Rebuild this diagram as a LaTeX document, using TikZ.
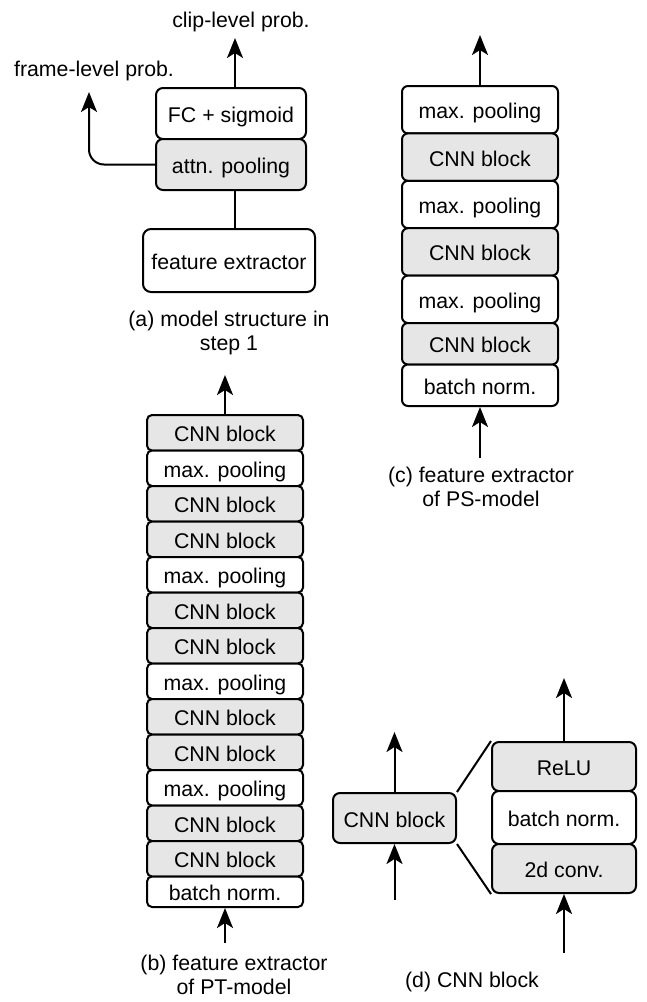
\documentclass[tikz,border=0pt]{standalone}
\usepackage{fontspec}
\setmainfont{Liberation Sans}
\usetikzlibrary{arrows.meta}
\definecolor{boxgray}{RGB}{230,230,230}
\begin{document}
\begin{tikzpicture}[x=1pt,y=-1pt, line width=2pt,
  font=\fontsize{21.3}{24}\selectfont,
  wbox/.style={draw, fill=white, rounded corners=5pt, inner sep=0pt, text height=20pt, text depth=2pt},
  gbox/.style={wbox, fill=boxgray},
  arr/.style={-{Stealth[length=20pt,width=16pt,inset=5pt]}},
  capt/.style={anchor=base, align=center, inner sep=0pt},
  lbl/.style={anchor=base, inner sep=0pt}]
\useasboundingbox (0,0) rectangle (646,1002);

% ---------- (a) ----------
\node[wbox, rounded corners=7pt, minimum width=150pt, minimum height=51pt] (fc) at (231,113.5) {FC + sigmoid};
\node[gbox, rounded corners=7pt, minimum width=150pt, minimum height=51pt] (attn) at (231,164.5) {attn. pooling};
\node[wbox, rounded corners=8pt, minimum width=172pt, minimum height=63pt] (fe) at (229,260.5) {feature extractor};
\coordinate (clipend) at (235,38);
\coordinate (frameend) at (89,92);
\node[lbl] (cliplbl) at (241,27) {clip-level prob.};
\node[lbl] (framelbl) at (94,76) {frame-level prob.};
\draw[arr] (clipend |- fc.north) -- (clipend);
\draw (clipend |- attn.south) -- (clipend |- fe.north);
\draw[arr, rounded corners=15pt] (attn.west) -| (frameend);
\node[capt] (capa) at (229,350) {(a) model structure in\\step 1};

% ---------- (b) ----------
\foreach \i/\t/\s in {1/CNN block/gbox, 2/max. pooling/wbox, 3/CNN block/gbox, 4/CNN block/gbox,
  5/max. pooling/wbox, 6/CNN block/gbox, 7/CNN block/gbox, 8/max. pooling/wbox,
  9/CNN block/gbox, 10/CNN block/gbox, 11/max. pooling/wbox, 12/CNN block/gbox, 13/CNN block/gbox}
  \node[\s, minimum width=156pt, minimum height=35.5pt] (b\i) at (225,{415+35.5*(\i-0.5)}) {\t};
\node[wbox, minimum width=156pt, minimum height=30.5pt] (b14) at (225,891.75) {batch norm.};
\coordinate (bout) at (225,375);
\coordinate (bin) at (225,943);
\draw[arr] (b1.north) -- (bout);
\draw[arr] (bin) -- (b14.south);
\node[capt] (capb) at (234,994) {(b) feature extractor\\of PT-model};

% ---------- (c) ----------
\foreach \i/\t/\s in {1/max. pooling/wbox, 2/CNN block/gbox, 3/max. pooling/wbox, 4/CNN block/gbox, 5/max. pooling/wbox}
  \node[\s, rounded corners=6pt, minimum width=156pt, minimum height=47.4pt] (c\i) at (480,{86+47.4*(\i-0.5)}) {\t};
\node[gbox, rounded corners=6pt, minimum width=156pt, minimum height=41.5pt] (c6) at (480,343.75) {CNN block};
\node[wbox, rounded corners=6pt, minimum width=156pt, minimum height=41.5pt] (c7) at (480,385.25) {batch norm.};
\coordinate (cout) at (480,35);
\coordinate (cin) at (480,458);
\draw[arr] (c1.north) -- (cout);
\draw[arr] (cin) -- (c7.south);
\node[capt] (capc) at (481,506) {(c) feature extractor\\of PS-model};

% ---------- (d) ----------
\node[gbox, rounded corners=7pt, minimum width=123pt, minimum height=50pt] (cnn) at (394.5,818) {CNN block};
\node[gbox, rounded corners=7pt, minimum width=144pt, minimum height=49pt] (relu) at (564,766.5) {ReLU};
\node[wbox, rounded corners=7pt, minimum width=144pt, minimum height=53pt] (bn) at (564,817.5) {batch norm.};
\node[gbox, rounded corners=7pt, minimum width=144pt, minimum height=49pt] (conv) at (564,868.5) {2d conv.};
\coordinate (dout) at (394.5,732);
\coordinate (din) at (394.5,900);
\coordinate (eout) at (564,678);
\coordinate (ein) at (564,953);
\draw[arr] (cnn.north) -- (dout);
\draw[arr] (din) -- (cnn.south);
\draw[arr] (relu.north) -- (eout);
\draw[arr] (ein) -- (conv.south);
\draw (cnn.north east) -- (relu.north west);
\draw (cnn.south east) -- (conv.south west);
\node[lbl] (capd) at (472,987) {(d) CNN block};
\end{tikzpicture}
\end{document}
